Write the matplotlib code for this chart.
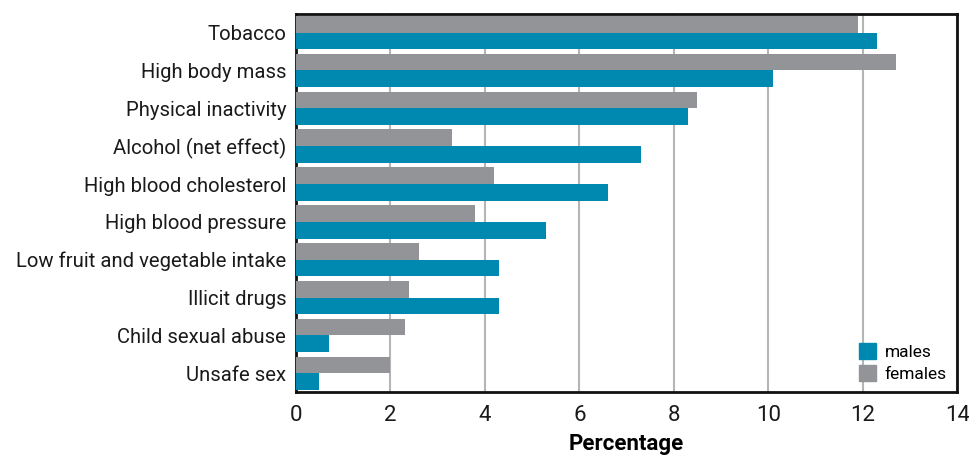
import numpy as np
import matplotlib.pyplot as plt
from matplotlib.patches import Patch

categories = [
    "Tobacco",
    "High body mass",
    "Physical inactivity",
    "Alcohol (net effect)",
    "High blood cholesterol",
    "High blood pressure",
    "Low fruit and vegetable intake",
    "Illicit drugs",
    "Child sexual abuse",
    "Unsafe sex",
]
males = [12.3, 10.1, 8.3, 7.3, 6.6, 5.3, 4.3, 4.3, 0.7, 0.5]
females = [11.9, 12.7, 8.5, 3.3, 4.2, 3.8, 2.6, 2.4, 2.3, 2.0]
xticks = [0, 2, 4, 6, 8, 10, 12, 14]

teal = "#0089b0"
grey = "#939498"

plt.rcParams["font.family"] = ["Roboto", "DejaVu Sans"]

fig = plt.figure(figsize=(9.7, 4.55), dpi=100)
ax = fig.add_axes([0.305, 0.138, 0.682, 0.832])

y = np.arange(len(categories))
h = 0.44
ax.barh(y - h / 2, females, height=h, color=grey, zorder=3)
ax.barh(y + h / 2, males, height=h, color=teal, zorder=3)

ax.set_ylim(len(categories) - 0.5, -0.5)
ax.set_xlim(0, 14)
ax.set_yticks(y)
ax.set_yticklabels(categories, fontsize=14.6, color="#1a1a1a")
ax.set_xticks(xticks)
ax.set_xticklabels([str(t) for t in xticks], fontsize=16, color="#1a1a1a")
ax.tick_params(length=0, pad=7)
ax.tick_params(axis="x", pad=9)
ax.grid(axis="x", color="#b5b5b5", linewidth=1.5, zorder=0)
for s in ax.spines.values():
    s.set_linewidth(2)
    s.set_color("#111111")

ax.set_xlabel("Percentage", fontsize=16, fontweight="bold", labelpad=5)

handles = [Patch(color=teal, label="males"), Patch(color=grey, label="females")]
ax.legend(handles=handles, loc="lower right", frameon=False,
          handlelength=1.0, handleheight=1.0, handletextpad=0.5,
          labelspacing=0.3, borderaxespad=0.2, prop={"size": 12.5})

fig.savefig("out.png", dpi=100)
